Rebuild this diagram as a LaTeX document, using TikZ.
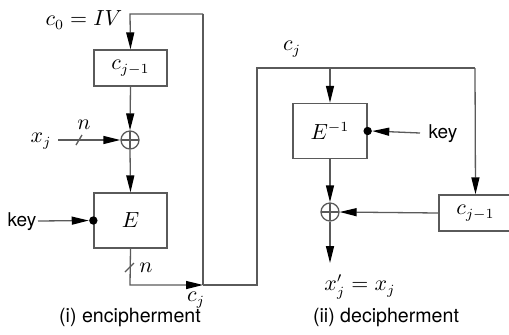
\documentclass[tikz,border=0pt]{standalone}
\usepackage{fontspec}
\setsansfont{TeX Gyre Heros}
\usetikzlibrary{arrows.meta}
\definecolor{linecol}{HTML}{5A5A5A}
\begin{document}
\begin{tikzpicture}[x=0.5pt,y=-0.5pt,
  ln/.style={draw=linecol,line width=0.65pt},
  arr/.style={ln,-{Triangle[length=8.5pt,width=4pt,color=black]}},
  blk/.style={ln,rectangle,minimum width=36.5pt,minimum height=18pt,inner sep=0pt,font=\fontsize{10.5}{12.5}\selectfont},
  eblk/.style={blk,minimum height=27.5pt},
  xorn/.style={ln,circle,minimum size=9pt,inner sep=0pt,
    path picture={\draw[linecol,line width=0.65pt] (path picture bounding box.north) -- (path picture bounding box.south) (path picture bounding box.west) -- (path picture bounding box.east);}},
  dotn/.style={circle,fill=black,minimum size=4.2pt,inner sep=0pt},
  mlab/.style={font=\fontsize{10.5}{12.5}\selectfont,inner sep=0pt},
  klab/.style={font=\sffamily\fontsize{9.5}{11}\selectfont,inner sep=0pt},
  captxt/.style={font=\sffamily\fontsize{9.8}{12}\selectfont,inner sep=0pt}]
\useasboundingbox (0,0) rectangle (509,334);
% ---- encipherment ----
\node[blk] (c1) at (130.5,68) {$c_{j-1}$};
\node[xorn] (x1) at (130,140) {};
\node[eblk] (E) at (130.5,220.5) {$E$};
\node[dotn] (d1) at (E.west) {};
\node[mlab] (iv) at (84,20) {$c_0=IV$};
\node[mlab] (xj) at (41,141) {$x_j$};
\node[mlab] (n1) at (84,125) {$n$};
\node[mlab] (n2) at (146,268) {$n$};
\node[klab] (k1) at (22,222) {key};
\node[mlab] (cjb) at (196,300) {$c_j$};
\coordinate (tl) at (130,14);
\coordinate (tr) at (203,14);
\coordinate (j) at (203,285);
\coordinate (bl) at (130,285);
\coordinate (xs) at (58,140);
\coordinate (ks) at (38,221);
\draw[arr] (tr) -- (tl) -- (c1.north);
\draw[ln] (tr) -- (j);
\draw[arr] (c1.south) -- (x1.north);
\draw[arr] (xs) -- (x1.west);
\draw[arr] (x1.south) -- (E.north);
\draw[arr] (ks) -- (d1.west);
\draw[arr] (E.south) -- (bl) -- (j);
\coordinate (s1a) at (76,145); \coordinate (s1b) at (82,135);
\draw[ln] (s1a) -- (s1b);
\coordinate (s2a) at (125,272); \coordinate (s2b) at (134,263);
\draw[ln] (s2a) -- (s2b);
\node[captxt] (cap1) at (130,317) {(i) encipherment};
% ---- decipherment ----
\coordinate (r1) at (257,285);
\coordinate (r2) at (257,68);
\coordinate (r3) at (475,68);
\coordinate (r4) at (330,68);
\node[eblk,minimum width=37pt] (Ei) at (330,131) {$E^{-1}$};
\node[dotn] (d2) at (Ei.east) {};
\node[klab] (k2) at (443,134) {key};
\coordinate (ks2) at (420,133);
\node[xorn] (x2) at (330,212) {};
\node[blk] (c2) at (475.5,213) {$c_{j-1}$};
\node[mlab] (cjt) at (292,49) {$c_j$};
\node[mlab,anchor=west] (out) at (324,287) {$x'_j=x_j$};
\coordinate (o) at (330,263);
\draw[ln] (j) -- (r1) -- (r2) -- (r3);
\draw[arr] (r3) -- (c2.north);
\draw[arr] (r4) -- (Ei.north);
\draw[arr] (ks2) -- (d2.east);
\draw[arr] (Ei.south) -- (x2.north);
\draw[arr] (c2.west) -- (x2.east);
\draw[arr] (x2.south) -- (o);
\node[captxt] (cap2) at (386,317) {(ii) decipherment};
\end{tikzpicture}
\end{document}
